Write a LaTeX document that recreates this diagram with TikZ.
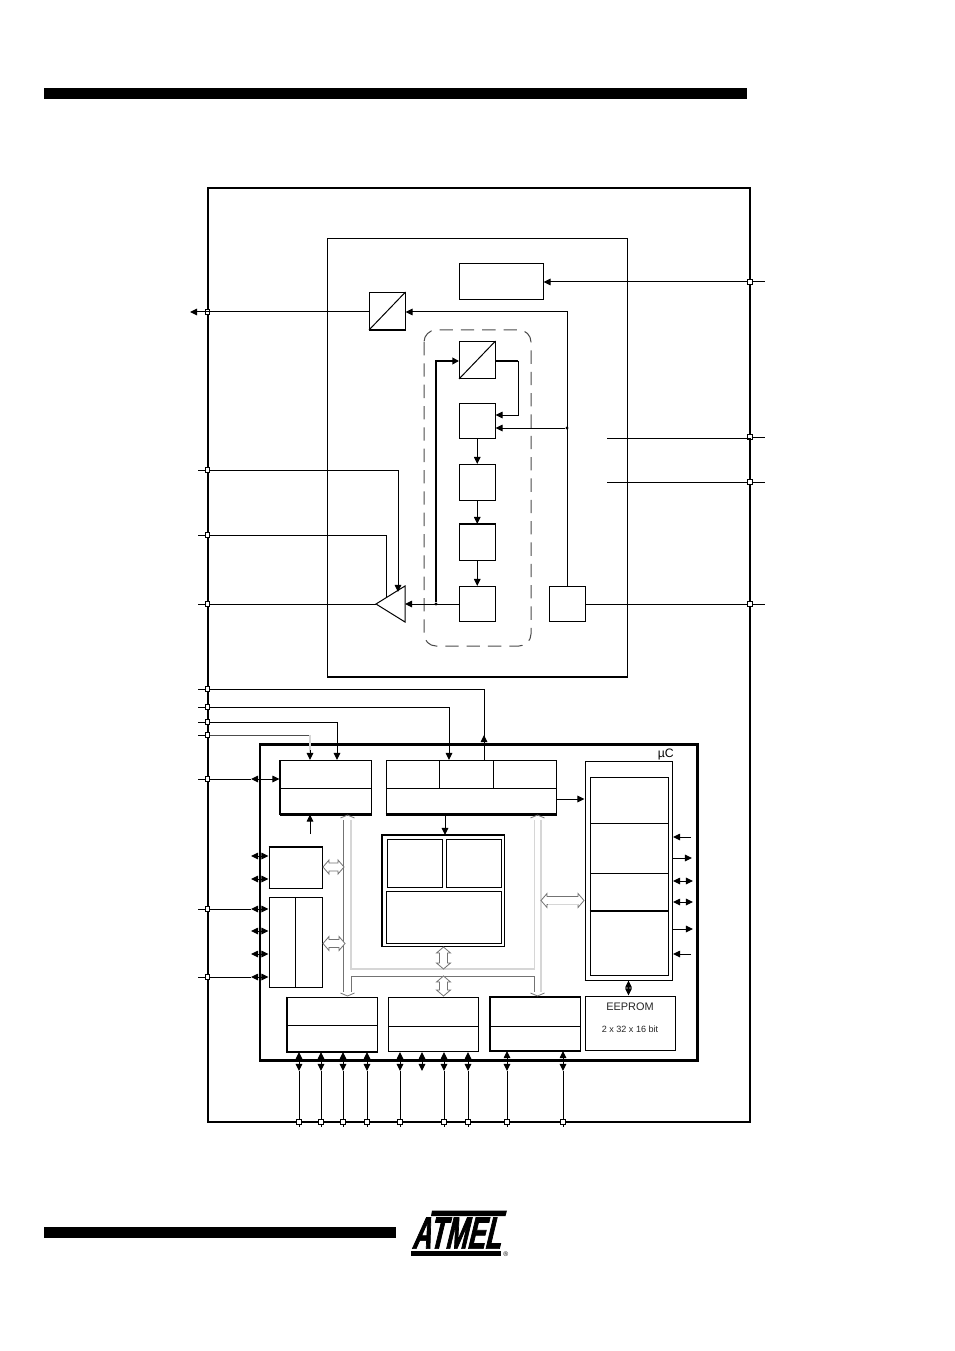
\documentclass[tikz,border=0pt]{standalone}
\usepackage{fontspec}
\setmainfont{Liberation Sans}
\newfontfamily\logofont[FakeSlant=0.24,FakeStretch=0.58,FakeBold=1.5]{Liberation Sans Bold}
\usetikzlibrary{arrows.meta}
\definecolor{buslight}{gray}{0.84}
\definecolor{busdark}{gray}{0.45}
\tikzset{
    blk/.style={draw,line width=0.75pt,inner sep=0pt,fill=white},
    pinbox/.style={draw,fill=white,line width=0.6pt,inner sep=0pt,minimum size=3.2pt},
    sig/.style={line width=0.75pt},
    fatline/.style={line width=1.6pt},
    arr/.style={line width=0.75pt,-{Triangle[length=5.4pt,width=5pt]}},
    biarr/.style={line width=0.75pt,{Triangle[length=5.4pt,width=5pt]}-{Triangle[length=5.4pt,width=5pt]}},
    dot/.style={circle,fill=black,inner sep=0pt,minimum size=2.6pt},
    busgray/.style={draw=busdark,fill=white,line width=0.6pt},
    lightline/.style={draw=buslight,line width=1.2pt},
    darkline/.style={draw=busdark,line width=0.7pt},
}
% corners in pixels of the page
\newcommand{\blkshift}{-0.5}
\newcommand{\blk}[6][]{
    \pgfmathsetmacro\bw{(#5-#3)*0.75}
    \pgfmathsetmacro\bh{(#6-#4)*0.75}
    \node[blk,minimum width=\bw pt,minimum height=\bh pt,#1] (#2) at ({(#3+#5)/2+\blkshift},{(#4+#6)/2+\blkshift}) {};
}
\newcommand{\hbus}[3]{
    \draw[busgray] (#1,#3) -- (#1+6,#3-7) -- (#1+6,#3-4) -- (#2-6,#3-4) -- (#2-6,#3-7) -- (#2,#3)
        -- (#2-6,#3+7) -- (#2-6,#3+4) -- (#1+6,#3+4) -- (#1+6,#3+7) -- cycle;
}
\newcommand{\vbus}[3]{
    \draw[busgray] (#1,#2) -- (#1-7,#2+6) -- (#1-4,#2+6) -- (#1-4,#3-6) -- (#1-7,#3-6) -- (#1,#3)
        -- (#1+7,#3-6) -- (#1+4,#3-6) -- (#1+4,#2+6) -- (#1+7,#2+6) -- cycle;
}
\begin{document}
\begin{tikzpicture}[x=0.75pt,y=-0.75pt]
\useasboundingbox (0,0) rectangle (954,1351);
\fill (44,88) rectangle (747,99);
\fill (44,1227) rectangle (396,1238);

% outer frame
\draw[line width=0.9pt] (208,188) rectangle (750,1122);
\draw[line width=1.7pt] (208,188) -- (208,1122);

% upper part
\blk{rx}{328}{239}{627.5}{677}
\draw[fatline] (rx.south west) -- (rx.south east);
\blk{reg}{460}{264}{543.5}{300}
\blk{convout}{370}{293}{405.5}{330}
\draw[sig] (convout.south west) -- (convout.north east);
\draw[fatline] (convout.south west) -- (convout.south east);
\draw[sig,draw=black!70,dash pattern=on 10pt off 6pt,rounded corners=9pt] (424,330) rectangle (531,646);
\blk{convin}{460}{342}{495.5}{379}
\draw[sig] (convin.south west) -- (convin.north east);
\blk{stagea}{460}{404}{495.5}{439}
\blk{stageb}{460}{465}{495.5}{501}
\blk{stagec}{460}{525}{495.5}{561}
\draw[fatline] (stagec.north west) -- (stagec.north east);
\blk{staged}{460}{587}{495.5}{622}
\blk{sense}{549.5}{587}{585.5}{622}
\draw[sig] (405,586) coordinate (tritop) -- (376,604) coordinate (trileft) -- (405,622) -- cycle;
\coordinate (triright) at (405,604);

% pins on the frame
\foreach \n/\y in {a/312,b/470,c/535,d/604,e/689,f/707,g/722,h/735,i/779,j/909,k/977}{
    \node[pinbox] (pl\n) at (207.5,\y) {};
    \coordinate (sl\n) at (198,\y);
    \draw[sig] (sl\n) -- (pl\n);
}
\foreach \n/\y in {a/282,b/437,c/482,d/604}{
    \node[pinbox] (pr\n) at (750,\y) {};
    \coordinate (sr\n) at (765,\y);
    \draw[sig] (pr\n) -- (sr\n);
}
\foreach \n/\x in {a/299,b/321,c/343,d/367,e/400,f/444,g/468,h/507,i/563}{
    \node[pinbox] (pb\n) at (\x,1122) {};
    \coordinate (sb\n) at (\x,1127);
    \draw[sig] (pb\n) -- (sb\n);
}

\draw[arr] (pra) -- (reg.east |- pra);
\coordinate (sla2) at (190,312);
\draw[arr] (convout.west |- pla) -- (sla2);
\coordinate (senseup) at (567,312);
\draw[arr] (sense.north) -- (senseup) -- (convout.east |- senseup);
\node[dot] (tap) at (567,428) {};
\draw[arr] (tap) -- (stagea.east |- tap);
\coordinate (loopa) at (518,361);
\coordinate (loopb) at (518,415);
\draw[sig,line width=1.4pt] (convin.east |- loopa) -- (loopa);
\draw[arr] (loopa) -- (loopb) -- (stagea.east |- loopb);
\node[dot] (fb) at (436,604) {};
\coordinate (fbup) at (436,361);
\draw[line width=1.6pt,-{Triangle[length=5pt,width=5pt]}] (fb) -- (fbup) -- (convin.west |- fbup);
\draw[arr] (stagea.south) -- (stageb.north);
\draw[arr] (stageb.south) -- (stagec.north);
\draw[arr] (stagec.south) -- (staged.north);
\draw[arr] (staged.west) -- (triright);
\draw[sig] (trileft) -- (pld);
\draw[sig] (sense.east) -- (prd);
\coordinate (wirea) at (607,438);
\coordinate (wireb) at (607,482);
\draw[sig] (wirea) -- (wirea -| prb) -- (prb);
\draw[sig] (wireb) -- (prc);
\coordinate (trin) at (398,592);
\coordinate (trim) at (386,597);
\draw[arr] (plb) -| (trin);
\draw[sig] (plc) -| (trim);

% micro controller
\renewcommand{\blkshift}{0}
\blk{mc}{260.5}{745}{697}{1060}
\draw[line width=1.8pt] (mc.south west) rectangle (mc.north east);
\node[font=\fontsize{9.2pt}{10pt}\selectfont,anchor=east,inner sep=0pt] (mclabel) at (674,754) {µC};
\blk{pll}{280}{760}{371}{814}
\draw[sig] (280,788) -- (371,788);
\draw[fatline] (pll.south west) -- (pll.south east);
\draw[line width=1.2pt] (pll.south west) -- (pll.north west);
\blk{wdg}{386}{760}{556}{814}
\draw[sig] (386,788) -- (556,788);
\draw[sig] (439.5,760) -- (439.5,788);
\draw[sig] (493,760) -- (493,788);
\draw[fatline] (wdg.south west) -- (wdg.south east);
\draw[line width=1.2pt] (wdg.south east) -- (wdg.north east);
\blk{mem}{382}{835}{504}{946}
\draw[line width=1.3pt] (mem.south west) rectangle (mem.north east);
\blk{mema}{387}{839}{442.5}{887}
\blk{memb}{446.5}{839}{501}{887}
\blk{memc}{386}{891}{501}{943}
\blk{portd}{269}{847}{322.5}{888}
\draw[line width=1.3pt] (portd.north west) -- (portd.north east);
\draw[line width=1.3pt] (portd.south west) -- (portd.south east);
\blk{porte}{269}{897}{322.5}{987}
\draw[sig] (295.5,897) -- (295.5,987);
\blk{tima}{287}{997}{377}{1051.5}
\draw[sig] (287,1025) -- (377,1025);
\draw[line width=1.2pt] (tima.north west) -- (tima.south west) -- (tima.south east) -- (tima.north east);
\blk{timb}{388}{997}{478}{1051.5}
\draw[sig] (388,1026) -- (478,1026);
\blk{timc}{490}{997}{580}{1050.5}
\draw[sig] (490,1026) -- (580,1026);
\draw[line width=1.3pt] (timc.south west) rectangle (timc.north east);
\blk{eep}{585}{996}{675}{1050.5}
\node[font=\fontsize{8.2pt}{9pt}\selectfont,text=black!85] (eeplabel) at (630,1007) {EEPROM};
\node[font=\fontsize{6.8pt}{8pt}\selectfont,text=black!85] (eepsize) at (630,1029) {2 x 32 x 16 bit};
\blk{ctl}{585}{761}{672}{980}
\draw[line width=1.1pt] (ctl.south west) -- (ctl.south east) -- (ctl.north east);
\blk{ctla}{590}{777}{668}{823}
\blk{ctlb}{590}{823}{668}{873}
\blk{ctlc}{590}{873}{668}{911}
\blk{ctld}{590}{911}{668}{975}
\draw[line width=1.2pt] (ctld.north west) -- (ctld.north east);

% buses
\draw[lightline] (351,820) -- (351,969) -- (534.5,969) -- (534.5,820);
\draw[darkline] (343.5,820) -- (343.5,992);
\draw[darkline] (351,992) -- (351,976) -- (534,976) -- (534,992);
\draw[lightline] (541,820) -- (541,992);
\foreach \x in {347.5,537.5}{
    \draw[busgray,fill=none] (\x-7,818) -- (\x,815) -- (\x+7,818);
    \draw[busgray,fill=none] (\x-7,993) -- (\x,996) -- (\x+7,993);
}
\hbus{323}{344}{867}
\hbus{323}{345}{943.5}
\vbus{443.5}{947}{969}
\vbus{443.5}{976}{996}
\hbus{541}{584}{900.5}
\draw[lightline] (548,904.5) -- (578,904.5);

% control wires
\coordinate (tapa) at (484,760);
\coordinate (tapb) at (449,760);
\coordinate (tapc) at (337,760);
\coordinate (tapd) at (310,760);
\coordinate (tapdtop) at (310,735);
\draw[sig] (tapa) -- (484,689) -- (ple);
\draw[arr] (484,744) -- (484,735);
\draw[arr] (plf) -| (tapb);
\draw[arr] (plg) -| (tapc);
\draw[sig,draw=black!70] (plh) -- (tapdtop);
\draw[lightline] (tapdtop) -- (310,752);
\draw[arr] (310,750) -- (tapd);
\coordinate (plli) at (251,779);
\draw[sig] (pli) -- (plli);
\draw[biarr] (plli) -- (pll.west |- plli);
\coordinate (pllin) at (310,834);
\draw[arr] (pllin) -- (pllin |- pll.south);
\draw[arr] (wdg.south -| 445,814) -- (445,835);
\draw[arr] (wdg.east |- 0,799) -- (ctl.west |- 0,799);
\draw[biarr] (ctl.south -| 628.5,980) -- (eep.north -| 628.5,996);

% port arrows on the left
\foreach \y in {856,879,909,931,954,977}{
    \coordinate (pt\y) at (251,\y);
    \ifnum\y<890
        \draw[biarr] (pt\y) -- (portd.west |- pt\y);
    \else
        \draw[biarr] (pt\y) -- (porte.west |- pt\y);
    \fi
}
\draw[sig] (plj) -- (pt909);
\draw[sig] (plk) -- (pt977);

% port arrows on the right
\foreach \y/\s/\e in {837/691/673,858/673/692,929/673/693,954/691/673}{
    \coordinate (ra\y) at (\s,\y);
    \coordinate (rb\y) at (\e,\y);
    \draw[arr] (ra\y) -- (rb\y);
}
\foreach \y in {881,902}{
    \coordinate (ra\y) at (673,\y);
    \coordinate (rb\y) at (693,\y);
    \draw[biarr] (ra\y) -- (rb\y);
}

% port arrows at the bottom
\foreach \n/\x/\t in {a/299/tima,b/321/tima,c/343/tima,d/367/tima,e/400/timb,f/444/timb,g/468/timb,h/507/timc,i/563/timc}{
    \coordinate (bt\n) at (\x,1071);
    \draw[biarr] (\t.south -| bt\n) -- (bt\n);
    \draw[sig] (bt\n) -- (pb\n);
}
\coordinate (btx) at (422,1071);
\draw[biarr] (timb.south -| btx) -- (btx);

% logo
\fill (432,1210.5) -- (507,1210.5) -- (505.5,1216) -- (431,1216) -- cycle;
\fill (411,1250.5) rectangle (501,1256);
\node[font=\logofont\fontsize{34pt}{35pt}\selectfont,inner sep=0pt] (logo) at (456,1233) {ATMEL};
\node[font=\fontsize{5pt}{5pt}\selectfont,inner sep=0pt,anchor=west] (logoreg) at (503,1254) {®};
\end{tikzpicture}
\end{document}
